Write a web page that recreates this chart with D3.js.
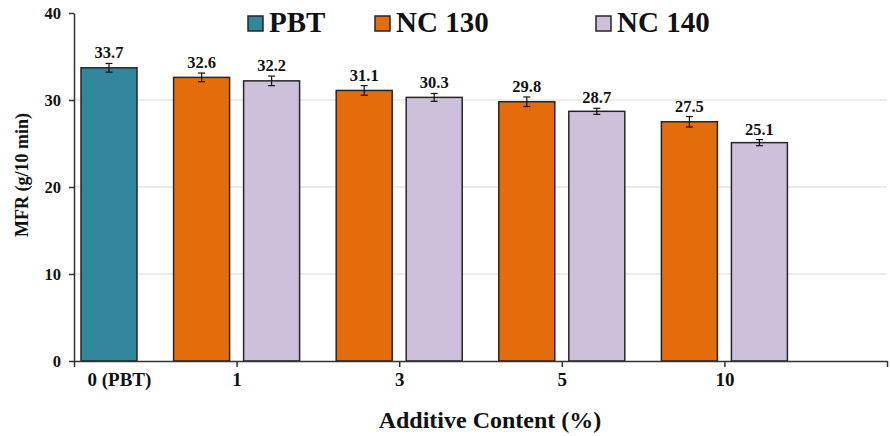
<!DOCTYPE html>
<html>
<head>
<meta charset="utf-8">
<script src="https://cdn.jsdelivr.net/npm/d3@7"></script>
<style>
  html, body { margin: 0; padding: 0; background: #fff; }
  svg { display: block; }
  text { font-family: "Liberation Serif", "Times New Roman", serif; font-weight: bold; fill: #111; }
</style>
</head>
<body>
<svg id="chart" width="890" height="436"></svg>
<script>
// ---- data ----
const categories = ["0 (PBT)", "1", "3", "5", "10"];
const seriesNames = ["PBT", "NC 130", "NC 140"];
const pbtValues   = [33.7, null, null, null, null];
const nc130Values = [null, 32.6, 31.1, 29.8, 27.5];
const nc140Values = [null, 32.2, 30.3, 28.7, 25.1];
const pbtErrors   = [0.5, null, null, null, null];
const nc130Errors = [null, 0.5, 0.55, 0.55, 0.6];
const nc140Errors = [null, 0.55, 0.45, 0.35, 0.35];
const yTicks = [0, 10, 20, 30, 40];
const gridTicks = [10, 20, 30];

(function () {
const colors = { "PBT": "#31869b", "NC 130": "#e46c0a", "NC 140": "#ccc0da" };
// PBT occupies the right-hand slot of its group
const slotOf = { "PBT": "R", "NC 130": "L", "NC 140": "R" };

const svg = d3.select("#chart");
const mLeft = 74, mRight = 887, mTop = 13, mBottom = 361;

const x = d3.scaleLinear().domain([0, 5]).range([mLeft, mRight]);
const slot = d3.scaleBand().domain(["L", "R"]).range([-70, 70]).paddingInner(0.2).paddingOuter(0.1);
const y = d3.scaleLinear().domain([0, 40]).range([mBottom, mTop]);

// gridlines
svg.append("g").selectAll("line").data(gridTicks).join("line")
  .attr("x1", mLeft).attr("x2", mRight)
  .attr("y1", d => y(d)).attr("y2", d => y(d))
  .attr("stroke", "#d9d9d9").attr("stroke-width", 1);

// records
const records = [];
const seriesVals = { "PBT": pbtValues, "NC 130": nc130Values, "NC 140": nc140Values };
const seriesErr = { "PBT": pbtErrors, "NC 130": nc130Errors, "NC 140": nc140Errors };
seriesNames.forEach(s => {
  seriesVals[s].forEach((v, i) => {
    if (v != null) records.push({ series: s, i, value: v, err: seriesErr[s][i] });
  });
});

const bx = d => x(d.i) + slot(slotOf[d.series]);
const bw = slot.bandwidth();

svg.append("g").selectAll("rect").data(records).join("rect")
  .attr("x", bx).attr("width", bw)
  .attr("y", d => y(d.value)).attr("height", d => y(0) - y(d.value))
  .attr("fill", d => colors[d.series])
  .attr("stroke", "#262626").attr("stroke-width", 1.5);

// error bars
const eb = svg.append("g").attr("stroke", "#111").attr("stroke-width", 1.2);
records.forEach(d => {
  const cx = bx(d) + bw / 2;
  eb.append("line").attr("x1", cx).attr("x2", cx).attr("y1", y(d.value + d.err)).attr("y2", y(d.value - d.err));
  [d.value + d.err, d.value - d.err].forEach(v => {
    eb.append("line").attr("x1", cx - 3.5).attr("x2", cx + 3.5).attr("y1", y(v)).attr("y2", y(v));
  });
});

// data labels
svg.append("g").selectAll("text").data(records).join("text")
  .attr("x", d => bx(d) + bw / 2)
  .attr("y", d => y(d.value + d.err) - 5)
  .attr("text-anchor", "middle")
  .style("font-size", "16.5px")
  .text(d => d.value.toFixed(1));

// y axis
const yAxis = svg.append("g").attr("transform", `translate(${mLeft},0)`)
  .call(d3.axisLeft(y).tickValues(yTicks).tickSize(5).tickSizeOuter(0).tickPadding(8));
yAxis.select(".domain").attr("stroke", "#333").attr("stroke-width", 1.5);
yAxis.selectAll(".tick line").attr("stroke", "#333").attr("stroke-width", 1.5);
yAxis.selectAll("text").style("font-size", "16.5px").style("font-family", "Liberation Serif").style("font-weight", "bold").attr("fill", "#111");

// x axis
const xAxis = svg.append("g").attr("transform", `translate(0,${mBottom})`)
  .call(d3.axisBottom(x).tickValues([0, 1, 2, 3, 4, 5]).tickSize(6).tickSizeOuter(0).tickPadding(6)
    .tickFormat(i => categories[i] !== undefined ? categories[i] : ""));
xAxis.select(".domain").attr("stroke", "#333").attr("stroke-width", 1.5);
xAxis.selectAll(".tick line").attr("stroke", "#333").attr("stroke-width", 1.5);
xAxis.selectAll("text").style("font-size", "19px").style("font-family", "Liberation Serif").style("font-weight", "bold").attr("fill", "#111");
xAxis.selectAll(".tick text").filter(i => i === 0).attr("text-anchor", "start").attr("x", 13);

// axis titles
svg.append("text")
  .attr("transform", `translate(28,175) rotate(-90)`)
  .attr("text-anchor", "middle")
  .style("font-size", "18px")
  .text("MFR (g/10 min)");
svg.append("text")
  .attr("x", 490).attr("y", 428)
  .attr("text-anchor", "middle")
  .style("font-size", "24px")
  .text("Additive Content (%)");

// legend
const legendX = { "PBT": 248, "NC 130": 375, "NC 140": 596 };
const lg = svg.append("g");
seriesNames.forEach(s => {
  lg.append("rect").attr("x", legendX[s]).attr("y", 16).attr("width", 15).attr("height", 15)
    .attr("fill", colors[s]).attr("stroke", "#262626").attr("stroke-width", 1.5);
  lg.append("text").attr("x", legendX[s] + 21).attr("y", 32)
    .style("font-size", "29px").text(s);
});
})();
</script>
</body>
</html>
